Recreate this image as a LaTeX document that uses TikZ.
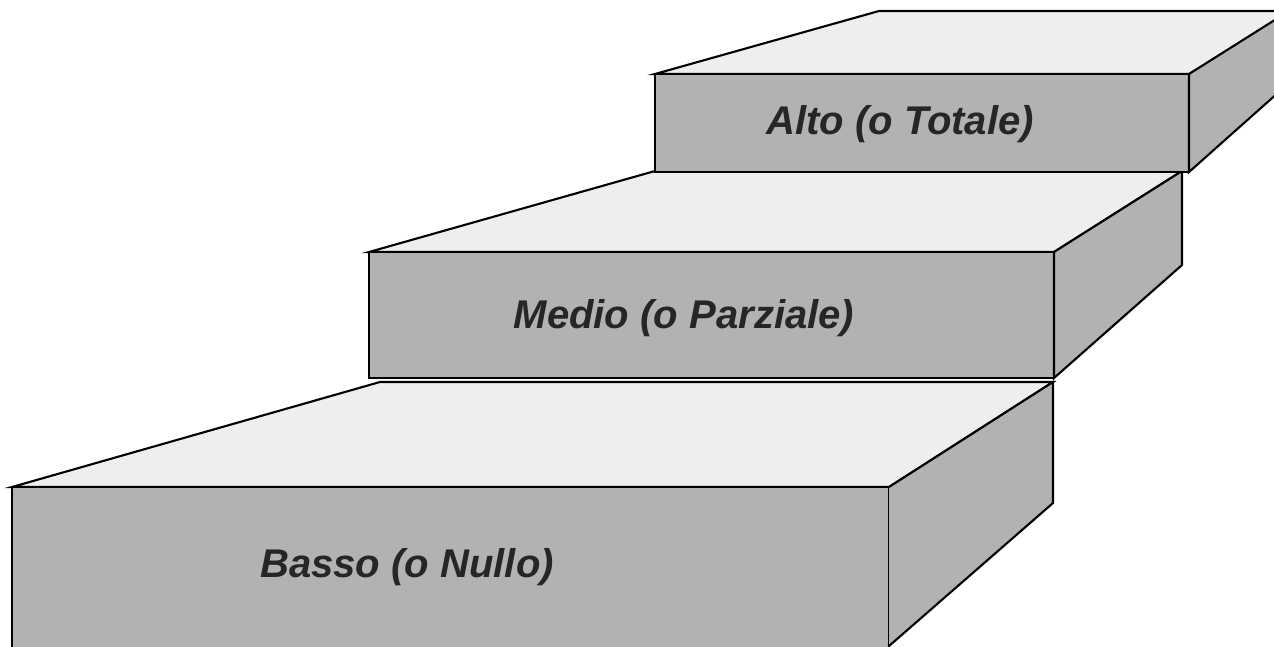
\documentclass[tikz,border=0pt]{standalone}
\usepackage{fontspec}
\setsansfont{Liberation Sans}
\usepackage{xcolor}
\definecolor{frontgray}{HTML}{B2B2B2}
\definecolor{topgray}{HTML}{EEEEEE}
\definecolor{labelgray}{HTML}{262626}
\usetikzlibrary{positioning}

\tikzset{
  topface/.style={fill=topgray, draw=black, line width=1.2pt},
  frontface/.style={fill=frontgray, draw=black, line width=1.2pt},
  sideface/.style={fill=frontgray, draw=black, line width=1.2pt},
  steplabel/.style={font=\sffamily\bfseries\itshape\fontsize{22.8}{27}\selectfont, text=labelgray}
}

\begin{document}
\begin{tikzpicture}[x=0.02cm, y=-0.02cm]
				\useasboundingbox (0, 0) rectangle (1274, 646);
				\clip (0, 0) rectangle (1274, 646);

				% lowest step
				\draw[topface] (12, 487) -- (380, 382) -- (1053, 382) -- (889, 487) -- cycle;
				\draw[frontface] (12, 487) rectangle (889, 670);
				\draw[sideface] (889, 487) -- (1053, 382) -- (1053, 503) -- (889, 646) -- (889, 670);
				\node[steplabel] (basso) at (407, 567) {Basso (o Nullo)};

				% middle step
				\draw[topface] (369, 252) -- (655, 171) -- (1182, 171) -- (1054, 252) -- cycle;
				\draw[frontface] (369, 252) rectangle (1054, 378);
				\draw[sideface] (1054, 252) -- (1182, 171) -- (1182, 265) -- (1054, 378) -- cycle;
				\node[steplabel] (medio) at (684, 318) {Medio (o Parziale)};

				% highest step
				\draw[topface] (655, 74) -- (879, 11) -- (1300, 11) -- (1189, 74) -- cycle;
				\draw[frontface] (655, 74) rectangle (1189, 172);
				\draw[sideface] (1189, 74) -- (1289, 11) -- (1289, 83) -- (1189, 172) -- cycle;
				\node[steplabel] (alto) at (900, 124) {Alto (o Totale)};
			\end{tikzpicture}
\end{document}
